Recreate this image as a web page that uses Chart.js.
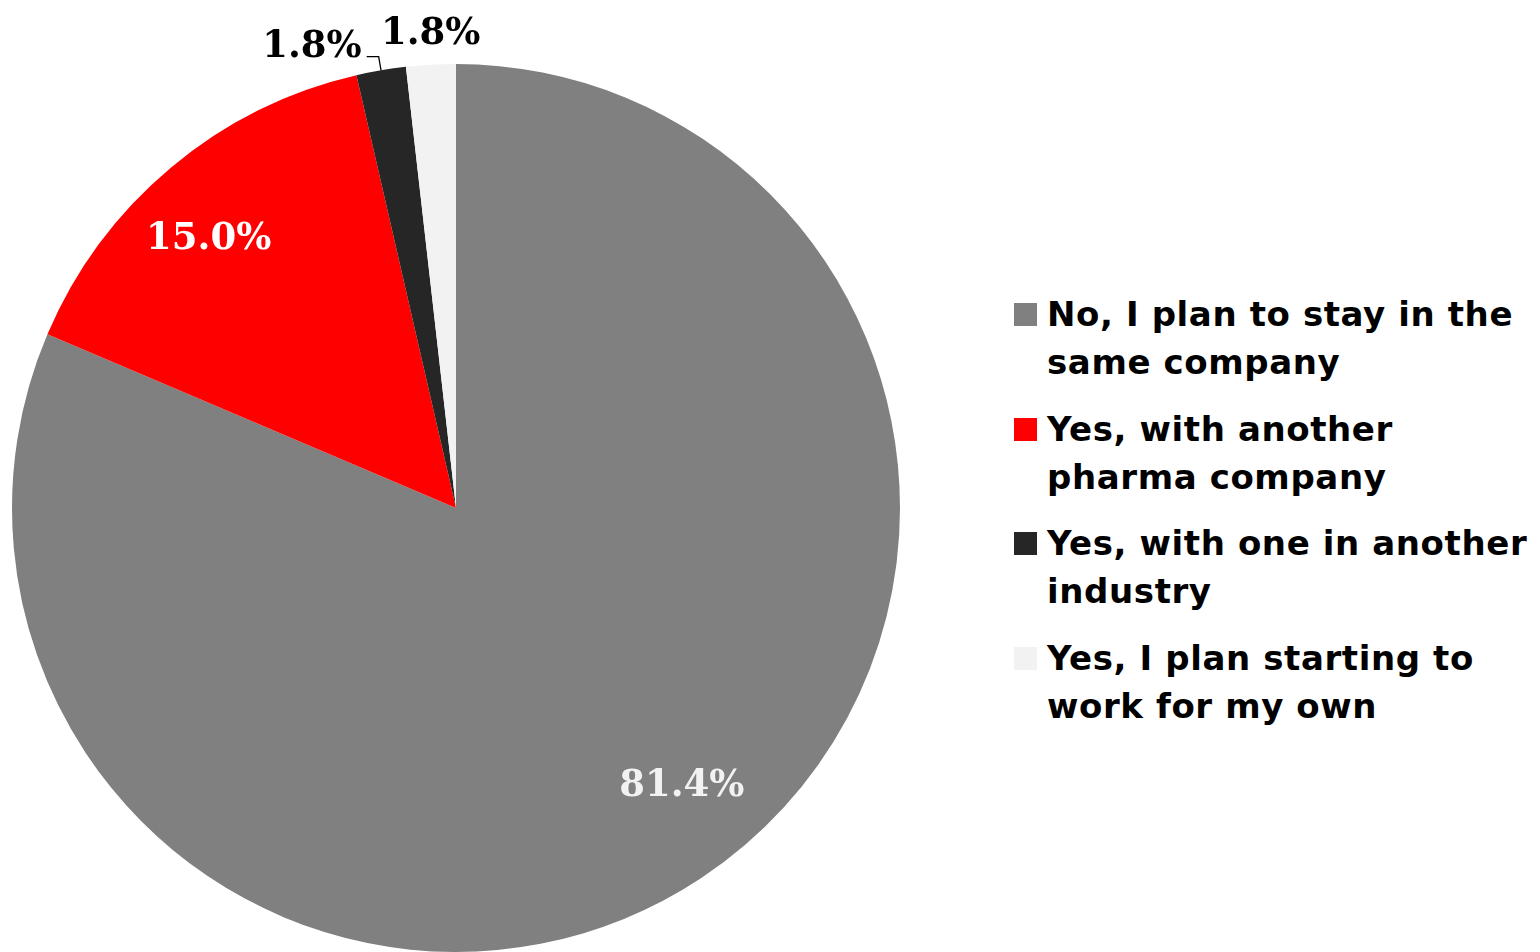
<!DOCTYPE html>
<html>
<head>
<meta charset="utf-8">
<script src="https://cdn.jsdelivr.net/npm/chart.js@4.4.1/dist/chart.umd.min.js"></script>
<style>
  html, body { margin: 0; padding: 0; background: #ffffff; }
  body { width: 1540px; height: 952px; position: relative; overflow: hidden; }
  #wrap { position: absolute; left: 0; top: 0; width: 912px; height: 952px; }
  #legend { position: absolute; left: 1014px; top: 290px; font-family: "DejaVu Sans", sans-serif; font-weight: 700; font-size: 34px; letter-spacing: 0.6px; line-height: 48px; color: #000; }
  .item { position: relative; padding-left: 33px; height: 96px; margin-bottom: 18.5px; white-space: nowrap; }
  .box { position: absolute; left: 0; top: 13px; width: 23px; height: 23px; }
</style>
</head>
<body>
<div id="wrap"><canvas id="c" width="912" height="952"></canvas></div>
<div id="legend"></div>
<script>
const categories = [
  ["No, I plan to stay in the", "same company"],
  ["Yes, with another", "pharma company"],
  ["Yes, with one in another", "industry"],
  ["Yes, I plan starting to", "work for my own"]
];
const shares = [81.4, 15.0, 1.8, 1.8];
const valueLabels = ["81.4%", "15.0%", "1.8%", "1.8%"];
const colors = ["#808080", "#FF0000", "#262626", "#F2F2F2"];

const labelPlugin = {
  id: 'sliceLabels',
  afterDatasetsDraw(chart, args, opts) {
    const ctx = chart.ctx;
    const meta = chart.getDatasetMeta(0);
    ctx.save();
    ctx.font = 'bold 37px "DejaVu Serif", "Liberation Serif", serif';
    meta.data.forEach((arc, i) => {
      const p = arc.getProps(['x', 'y', 'startAngle', 'endAngle', 'outerRadius'], true);
      const mid = (p.startAngle + p.endAngle) / 2;
      const st = opts.styles[i];
      const text = valueLabels[i];
      if (st.mode === 'inside') {
        const a = mid + st.shift * Math.PI / 180;
        const r = p.outerRadius * st.rf;
        const x = p.x + Math.cos(a) * r;
        const y = p.y + Math.sin(a) * r;
        ctx.fillStyle = st.color;
        ctx.textAlign = 'center';
        ctx.textBaseline = 'alphabetic';
        ctx.fillText(text, x, y + 14);
      } else if (st.mode === 'leader') {
        const x0 = p.x + Math.cos(mid) * p.outerRadius;
        const y0 = p.y + Math.sin(mid) * p.outerRadius;
        const x1 = p.x + Math.cos(mid) * (p.outerRadius + 14);
        const y1 = p.y + Math.sin(mid) * (p.outerRadius + 14);
        const x2 = x1 - 12;
        ctx.strokeStyle = '#000';
        ctx.lineWidth = 1.3;
        ctx.beginPath();
        ctx.moveTo(x0, y0); ctx.lineTo(x1, y1); ctx.lineTo(x2, y1);
        ctx.stroke();
        ctx.fillStyle = st.color;
        ctx.textAlign = 'right';
        ctx.textBaseline = 'alphabetic';
        ctx.fillText(text, x2 - 5, y1);
      } else {
        const r = p.outerRadius + 22;
        const x = p.x + Math.cos(mid) * r;
        const y = p.y + Math.sin(mid) * r;
        ctx.fillStyle = st.color;
        ctx.textAlign = 'center';
        ctx.textBaseline = 'alphabetic';
        ctx.fillText(text, x + 1, y + 1);
      }
    });
    ctx.restore();
  }
};

const chart = new Chart(document.getElementById('c'), {
  type: 'pie',
  data: {
    labels: categories,
    datasets: [{
      data: shares,
      backgroundColor: colors,
      borderWidth: 0
    }]
  },
  options: {
    responsive: false,
    animation: false,
    devicePixelRatio: 1,
    layout: { padding: { left: 12, right: 12, top: 64, bottom: 0 } },
    plugins: {
      legend: { display: false },
      tooltip: { enabled: false },
      sliceLabels: {
        styles: [
          { mode: 'inside', shift: -6, rf: 0.80, color: '#F2F2F2' },
          { mode: 'inside', shift: -2.2, rf: 0.83, color: '#FFFFFF' },
          { mode: 'leader', color: '#000000' },
          { mode: 'outside', color: '#000000' }
        ]
      }
    }
  },
  plugins: [labelPlugin]
});

const legend = document.getElementById('legend');
categories.forEach((lines, i) => {
  const item = document.createElement('div');
  item.className = 'item';
  const box = document.createElement('span');
  box.className = 'box';
  box.style.background = colors[i];
  item.appendChild(box);
  lines.forEach((ln, j) => {
    if (j > 0) item.appendChild(document.createElement('br'));
    item.appendChild(document.createTextNode(ln));
  });
  legend.appendChild(item);
});
</script>
</body>
</html>
